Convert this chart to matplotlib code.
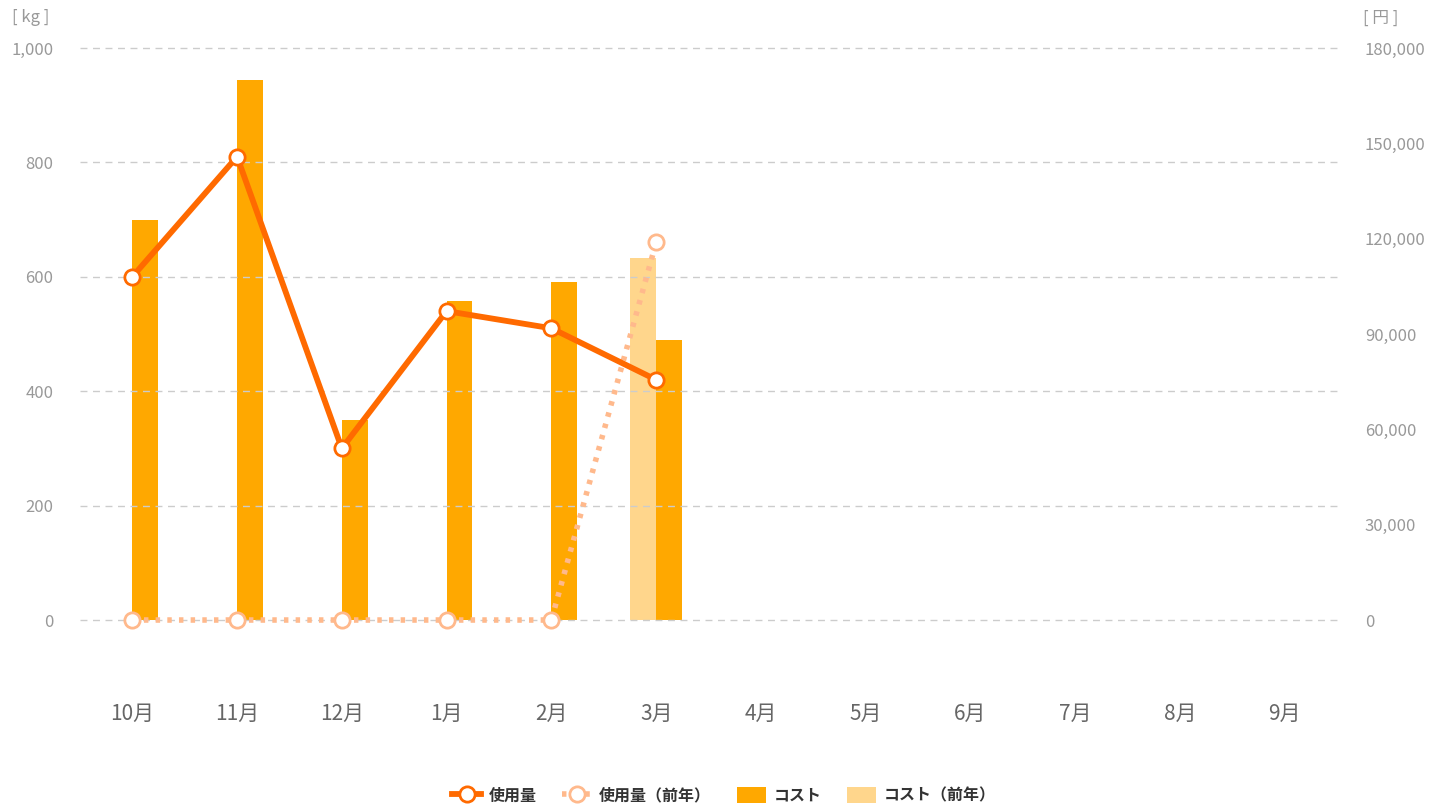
import matplotlib.pyplot as plt
import numpy as np
from matplotlib.ticker import FuncFormatter

plt.rcParams["font.family"] = ["Noto Sans CJK JP", "DejaVu Sans"]

months = ["10月", "11月", "12月", "1月", "2月", "3月", "4月", "5月", "6月", "7月", "8月", "9月"]
usage = [600, 810, 300, 540, 510, 420]
usage_prev = [0, 0, 0, 0, 0, 660]
cost = [126000, 170000, 63000, 100500, 106500, 88000]
cost_prev = [0, 0, 0, 0, 0, 114000]

c_line = "#ff6a00"
c_line_prev = "#ffb98c"
c_bar = "#ffa800"
c_bar_prev = "#ffd68c"
c_text = "#999999"

fig = plt.figure(figsize=(14.48, 8.09), dpi=100)
ax = fig.add_axes([0.0552, 0.2336, 0.8682, 0.7071])
ax2 = ax.twinx()

x = np.arange(len(months))
w = 0.245
ax2.bar(x[:len(cost_prev)] - w / 2, cost_prev, w, color=c_bar_prev, label="コスト（前年）", zorder=2)
ax2.bar(x[:len(cost)] + w / 2, cost, w, color=c_bar, label="コスト", zorder=2)

# lines on top of bars
ax.set_zorder(ax2.get_zorder() + 1)
ax.patch.set_visible(False)
ax.plot(x[:len(usage_prev)], usage_prev, color=c_line_prev, lw=4, ls=(0, (0.8, 1.3)),
        marker="o", ms=11, mfc="white", mec=c_line_prev, mew=2, label="使用量（前年）",
        clip_on=False, zorder=3)
ax.plot(x[:len(usage)], usage, color=c_line, lw=4.2, marker="o", ms=11, mfc="white",
        mec=c_line, mew=2, label="使用量", clip_on=False, zorder=4)

ax.set_xlim(-0.5, 11.5)
ax.set_ylim(0, 1000)
ax2.set_ylim(0, 180000)
ax.set_yticks(np.arange(0, 1001, 200))
ax2.set_yticks(np.arange(0, 180001, 30000))
ax.yaxis.set_major_formatter(FuncFormatter(lambda v, p: f"{int(v):,}"))
ax2.yaxis.set_major_formatter(FuncFormatter(lambda v, p: f"{int(v):,}"))
ax.set_xticks(x)
ax.set_xticklabels(months)

ax.grid(axis="y", color="#cccccc", ls=(0, (5, 4)), lw=1)
ax.set_axisbelow(True)
for gl in ax.get_ygridlines():
    gl.set_clip_on(False)
for a in (ax, ax2):
    for s in a.spines.values():
        s.set_visible(False)
    a.tick_params(length=0, colors=c_text, labelsize=12)
ax.tick_params(axis="y", pad=19)
ax2.tick_params(axis="y", pad=20)
ax.tick_params(axis="x", pad=60, labelsize=15, colors="#666666")

fig.text(0.008, 0.978, "[ kg ]", color=c_text, fontsize=12, va="center")
fig.text(0.941, 0.978, "[ 円 ]", color=c_text, fontsize=12, va="center")

h1, l1 = ax.get_legend_handles_labels()
h2, l2 = ax2.get_legend_handles_labels()
handles = [h1[1], h1[0], h2[1], h2[0]]
labels = [l1[1], l1[0], l2[1], l2[0]]
fig.legend(handles, labels, loc="center", bbox_to_anchor=(0.5, 0.017), ncol=4,
           frameon=False, handlelength=1.8, handleheight=1.1, columnspacing=1.6,
           handletextpad=0.5, labelcolor="#333333",
           prop={"size": 11.5, "weight": "bold"})

fig.savefig("out.png", dpi=100)
